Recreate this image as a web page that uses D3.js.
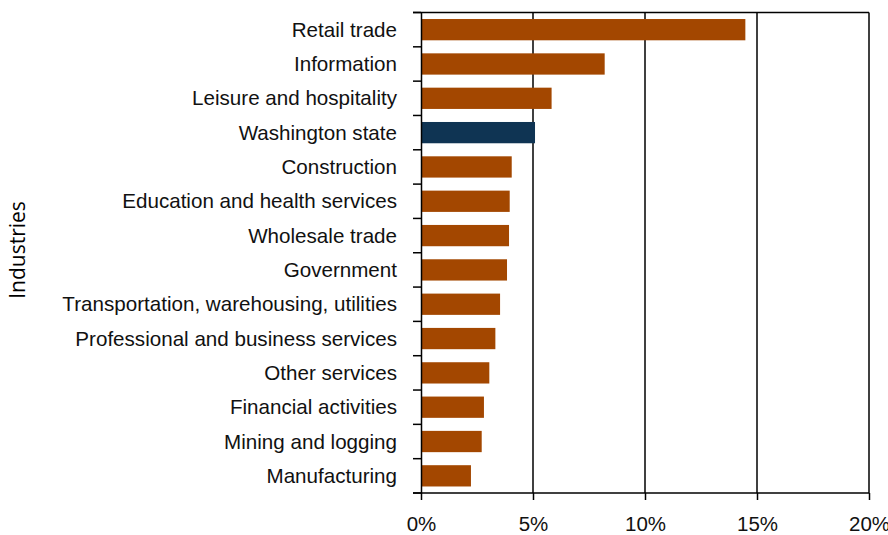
<!DOCTYPE html>
<html><head><meta charset="utf-8">
<script src="https://cdn.jsdelivr.net/npm/d3@7"></script>
<style>
html,body{margin:0;padding:0;background:#fff;}
svg{display:block;}
</style></head>
<body>
<svg id="chart" width="888" height="535"></svg>
<script>
const categories = ["Retail trade","Information","Leisure and hospitality","Washington state","Construction","Education and health services","Wholesale trade","Government","Transportation, warehousing, utilities","Professional and business services","Other services","Financial activities","Mining and logging","Manufacturing"];
const values = [14.48, 8.20, 5.83, 5.09, 4.05, 3.96, 3.93, 3.84, 3.53, 3.32, 3.05, 2.81, 2.71, 2.23];
const highlight = ["Washington state"];
const xTicks = [0, 5, 10, 15, 20];
const axisTitle = "Industries";

const svg = d3.select("#chart");
const m = {left: 421, right: 869, top: 12.5, bottom: 493};
const x = d3.scaleLinear().domain([0, 20]).range([m.left, m.right]);
const y = d3.scaleBand().domain(categories).range([m.top, m.bottom]).paddingInner(0.38).paddingOuter(0.19);

// gridlines
svg.append("g").selectAll("line").data(xTicks.slice(1)).join("line")
  .attr("x1", d => x(d)).attr("x2", d => x(d))
  .attr("y1", m.top).attr("y2", m.bottom)
  .attr("stroke", "#000").attr("stroke-width", 1.5);

// bars
svg.append("g").selectAll("rect").data(categories).join("rect")
  .attr("x", x(0))
  .attr("y", d => y(d))
  .attr("width", (d, i) => x(values[i]) - x(0))
  .attr("height", y.bandwidth())
  .attr("fill", d => highlight.includes(d) ? "#0f3453" : "#a34700");

// top border
svg.append("line").attr("x1", m.left - 8).attr("x2", m.right)
  .attr("y1", m.top).attr("y2", m.top).attr("stroke", "#000").attr("stroke-width", 1.5);

// y axis
const yStep = (m.bottom - m.top) / categories.length;
const yAxis = svg.append("g").attr("transform", `translate(${m.left},0)`)
  .call(d3.axisLeft(y).tickSize(0).tickPadding(0).tickFormat(() => ""));
yAxis.select(".domain").attr("stroke", "#000").attr("stroke-width", 1.5);
svg.append("g").selectAll("line").data(d3.range(categories.length + 1)).join("line")
  .attr("x1", m.left - 8).attr("x2", m.left)
  .attr("y1", i => m.top + i * yStep).attr("y2", i => m.top + i * yStep)
  .attr("stroke", "#000").attr("stroke-width", 1.5);
svg.append("g").selectAll("text").data(categories).join("text")
  .attr("x", 397)
  .attr("y", d => y(d) + y.bandwidth() / 2 + 7)
  .attr("text-anchor", "end")
  .attr("font-family", "'Liberation Sans',Arial,sans-serif")
  .attr("font-size", 20.6)
  .attr("fill", "#111")
  .text(d => d);

// x axis
const xAxis = svg.append("g").attr("transform", `translate(0,${m.bottom})`)
  .call(d3.axisBottom(x).tickValues(xTicks).tickSize(7).tickPadding(16).tickFormat(d => d + "%"));
xAxis.select(".domain").attr("d", `M${m.left - 8},0H${m.right}`).attr("stroke", "#000").attr("stroke-width", 1.5);
xAxis.selectAll(".tick line").attr("stroke", "#000").attr("stroke-width", 1.5);
xAxis.selectAll(".tick text")
  .attr("font-family", "'Liberation Sans',Arial,sans-serif")
  .attr("font-size", 20.5).attr("fill", "#111");

// axis title
svg.append("text")
  .attr("transform", "translate(25,250) rotate(-90)")
  .attr("text-anchor", "middle")
  .attr("font-family", "'Open Sans',sans-serif")
  .attr("font-size", 21)
  .attr("fill", "#000")
  .text(axisTitle);
</script>
</body></html>
